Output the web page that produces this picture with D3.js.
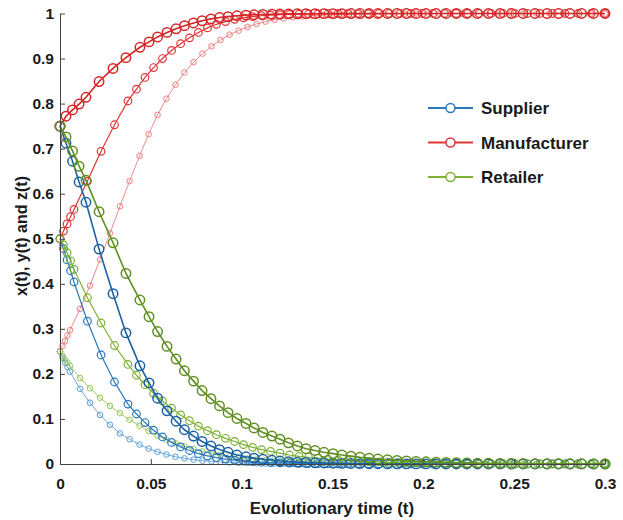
<!DOCTYPE html>
<html>
<head>
<meta charset="utf-8">
<script src="https://cdn.jsdelivr.net/npm/d3@7"></script>
<style>
  body { margin: 0; background: #fff; }
  svg text { font-family: "Liberation Sans", Arial, sans-serif; font-weight: bold; fill: #1a1a1a; }
</style>
</head>
<body>
<svg id="chart" width="623" height="520"></svg>
<script>
// solver output times, one grid per initial value (0.75 / 0.5 / 0.25)
var tHigh = [0, 0.0033, 0.0069, 0.0105, 0.0143, 0.0215, 0.0292, 0.0363, 0.0440, 0.0490,
  0.0537, 0.0589, 0.0639, 0.0685, 0.0735, 0.0782, 0.0831, 0.0878, 0.0925, 0.0974,
  0.1024, 0.1068, 0.1117, 0.1167, 0.1211, 0.1258, 0.1307, 0.1354, 0.1404, 0.1453,
  0.1503, 0.1552, 0.1602, 0.1651, 0.1701, 0.1750, 0.1803, 0.1855, 0.1907, 0.1960,
  0.2015, 0.2070, 0.2125, 0.2182, 0.2240, 0.2298, 0.2358, 0.2422, 0.2485, 0.2549,
  0.2615, 0.2681, 0.2744, 0.2807, 0.2871, 0.2937, 0.3];
var tMid = [0, 0.0019, 0.0039, 0.0058, 0.0077, 0.0151, 0.0226, 0.0300, 0.0374, 0.0421,
  0.0468, 0.0515, 0.0564, 0.0614, 0.0664, 0.0713, 0.0762, 0.0812, 0.0861, 0.0911,
  0.0961, 0.1010, 0.1060, 0.1109, 0.1159, 0.1211, 0.1263, 0.1316, 0.1368, 0.1420,
  0.1475, 0.1530, 0.1585, 0.1640, 0.1698, 0.1756, 0.1813, 0.1872, 0.1932, 0.1993,
  0.2053, 0.2116, 0.2180, 0.2243, 0.2306, 0.2372, 0.2438, 0.2504, 0.2573, 0.2642,
  0.2711, 0.2780, 0.2851, 0.2925, 0.3];
var tLow = [0, 0.0014, 0.0028, 0.0041, 0.0055, 0.0110, 0.0165, 0.0220, 0.0275, 0.0330,
  0.0383, 0.0438, 0.0488, 0.0537, 0.0586, 0.0636, 0.0685, 0.0735, 0.0784, 0.0834,
  0.0883, 0.0933, 0.0983, 0.1032, 0.1082, 0.1131, 0.1181, 0.1230, 0.1283, 0.1335,
  0.1387, 0.1440, 0.1495, 0.1550, 0.1605, 0.1662, 0.1720, 0.1778, 0.1839, 0.1899,
  0.1960, 0.2023, 0.2086, 0.2150, 0.2213, 0.2279, 0.2345, 0.2414, 0.2483, 0.2551,
  0.2623, 0.2694, 0.2769, 0.2846, 0.2923, 0.3];

// supplier x(t)
var supplierHigh = [0.75, 0.712, 0.672, 0.626, 0.581, 0.477, 0.378, 0.291, 0.218, 0.180,
  0.146, 0.118, 0.095, 0.076, 0.062, 0.050, 0.040, 0.032, 0.026, 0.020,
  0.016, 0.013, 0.0104, 0.0083, 0.0066, 0.0053, 0.0042, 0.0034, 0.0027, 0.0022,
  0.0017, 0.0014, 0.0011, 0.0009, 0.0007, 0.0006, 0.0005, 0.0004, 0.0003, 0.0002,
  0.0002, 0.0001, 0.0001, 0.0001, 0.0001, 0.0001, 0, 0, 0, 0,
  0, 0, 0, 0, 0, 0, 0];
var supplierMid = [0.5, 0.478, 0.453, 0.429, 0.404, 0.317, 0.242, 0.182, 0.133, 0.111,
  0.092, 0.075, 0.060, 0.048, 0.038, 0.030, 0.023, 0.018, 0.014, 0.011,
  0.0085, 0.0066, 0.0051, 0.0040, 0.0031, 0.0024, 0.0018, 0.0014, 0.0011, 0.0008,
  0.0006, 0.0005, 0.0004, 0.0003, 0.0002, 0.0002, 0.0001, 0.0001, 0, 0,
  0, 0, 0, 0, 0, 0, 0, 0, 0, 0,
  0, 0, 0, 0, 0];
var supplierLow = [0.25, 0.236, 0.225, 0.215, 0.205, 0.167, 0.136, 0.109, 0.087, 0.068,
  0.055, 0.043, 0.034, 0.027, 0.021, 0.016, 0.0125, 0.0097, 0.0075, 0.0058,
  0.0045, 0.0035, 0.0027, 0.0021, 0.0016, 0.0012, 0.0009, 0.0007, 0.0005, 0.0004,
  0.0003, 0.0002, 0.0002, 0.0001, 0.0001, 0, 0, 0, 0, 0,
  0, 0, 0, 0, 0, 0, 0, 0, 0, 0,
  0, 0, 0, 0, 0, 0];

// manufacturer y(t)
var manufacturerHigh = [0.75, 0.772, 0.786, 0.799, 0.814, 0.849, 0.878, 0.902, 0.925, 0.937,
  0.948, 0.958, 0.966, 0.973, 0.979, 0.984, 0.988, 0.991, 0.993, 0.995,
  0.9963, 0.9972, 0.9979, 0.9984, 0.9988, 0.9991, 0.9993, 0.9995, 0.9996, 0.9997,
  0.9998, 0.9998, 0.9999, 0.9999, 1, 1, 1, 1, 1, 1,
  1, 1, 1, 1, 1, 1, 1, 1, 1, 1,
  1, 1, 1, 1, 1, 1, 1];
var manufacturerMid = [0.5, 0.517, 0.533, 0.549, 0.565, 0.628, 0.694, 0.753, 0.806, 0.832,
  0.858, 0.880, 0.900, 0.918, 0.933, 0.946, 0.958, 0.968, 0.976, 0.982,
  0.987, 0.9905, 0.993, 0.995, 0.9963, 0.9973, 0.998, 0.9985, 0.9989, 0.9992,
  0.9994, 0.9996, 0.9997, 0.9998, 0.9998, 0.9999, 0.9999, 1, 1, 1,
  1, 1, 1, 1, 1, 1, 1, 1, 1, 1,
  1, 1, 1, 1, 1];
var manufacturerLow = [0.25, 0.262, 0.273, 0.285, 0.297, 0.344, 0.396, 0.454, 0.512, 0.572,
  0.628, 0.684, 0.732, 0.775, 0.811, 0.842, 0.869, 0.892, 0.911, 0.927,
  0.941, 0.953, 0.962, 0.970, 0.977, 0.982, 0.986, 0.989, 0.9917, 0.9937,
  0.9952, 0.9963, 0.9972, 0.9979, 0.9984, 0.9988, 0.9991, 0.9993, 0.9995, 0.9996,
  0.9997, 0.9998, 0.9998, 0.9999, 0.9999, 1, 1, 1, 1, 1,
  1, 1, 1, 1, 1, 1];

// retailer z(t)
var retailerHigh = [0.75, 0.726, 0.695, 0.661, 0.630, 0.560, 0.491, 0.423, 0.364, 0.327,
  0.294, 0.261, 0.233, 0.207, 0.184, 0.163, 0.145, 0.129, 0.114, 0.101,
  0.090, 0.080, 0.070, 0.062, 0.055, 0.047, 0.040, 0.034, 0.030, 0.026,
  0.023, 0.020, 0.0175, 0.015, 0.013, 0.011, 0.0095, 0.008, 0.0068, 0.0058,
  0.0049, 0.0041, 0.0035, 0.0029, 0.0024, 0.0020, 0.0017, 0.0014, 0.0012, 0.0010,
  0.0008, 0.0007, 0.0006, 0.0005, 0.0004, 0.0003, 0.0003];
var retailerMid = [0.5, 0.487, 0.469, 0.451, 0.432, 0.369, 0.313, 0.263, 0.221, 0.197,
  0.176, 0.157, 0.140, 0.124, 0.109, 0.096, 0.084, 0.074, 0.065, 0.057,
  0.050, 0.043, 0.037, 0.032, 0.028, 0.024, 0.020, 0.017, 0.015, 0.013,
  0.011, 0.0092, 0.0078, 0.0066, 0.0055, 0.0046, 0.0038, 0.0032, 0.0026, 0.0022,
  0.0018, 0.0015, 0.0012, 0.0010, 0.0008, 0.0007, 0.0006, 0.0005, 0.0004, 0.0003,
  0.0003, 0.0002, 0.0002, 0.0002, 0.0001];
var retailerLow = [0.25, 0.240, 0.232, 0.225, 0.218, 0.191, 0.168, 0.147, 0.129, 0.113,
  0.098, 0.085, 0.073, 0.063, 0.054, 0.046, 0.039, 0.033, 0.028, 0.024,
  0.020, 0.017, 0.0145, 0.012, 0.010, 0.0085, 0.0070, 0.0060, 0.0050, 0.0041,
  0.0034, 0.0028, 0.0023, 0.0019, 0.0015, 0.0012, 0.0010, 0.0008, 0.0006, 0.0005,
  0.0004, 0.0003, 0.0002, 0.0002, 0.0001, 0.0001, 0, 0, 0, 0,
  0, 0, 0, 0, 0, 0];

var xTicks = [0, 0.05, 0.1, 0.15, 0.2, 0.25, 0.3];
var yTicks = [0, 0.1, 0.2, 0.3, 0.4, 0.5, 0.6, 0.7, 0.8, 0.9, 1];
var legendNames = ["Supplier", "Manufacturer", "Retailer"];

var margin = {left: 60, top: 13.5, right: 18, bottom: 56};
var W = 623, H = 520;
var svg = d3.select("#chart");

var x = d3.scaleLinear().domain([0, 0.3]).range([margin.left, W - margin.right]);
var y = d3.scaleLinear().domain([0, 1]).range([H - margin.bottom, margin.top]);

// colours: [low, mid, high] shade for each player
var palette = {
  Supplier: ["#5b9dd6", "#2a79be", "#1b62a3"],
  Manufacturer: ["#ec7e7e", "#e03838", "#d42424"],
  Retailer: ["#98c655", "#7db134", "#5f8f1f"]
};
var levelStyle = [
  {lw: 0.9, r: 2.8, mw: 1.0},
  {lw: 1.2, r: 3.8, mw: 1.2},
  {lw: 1.6, r: 4.7, mw: 1.5}
];

var series = [
  {name: "Supplier", lvl: 0, t: tLow, v: supplierLow},
  {name: "Manufacturer", lvl: 0, t: tLow, v: manufacturerLow},
  {name: "Retailer", lvl: 0, t: tLow, v: retailerLow},
  {name: "Supplier", lvl: 1, t: tMid, v: supplierMid},
  {name: "Manufacturer", lvl: 1, t: tMid, v: manufacturerMid},
  {name: "Retailer", lvl: 1, t: tMid, v: retailerMid},
  {name: "Supplier", lvl: 2, t: tHigh, v: supplierHigh},
  {name: "Manufacturer", lvl: 2, t: tHigh, v: manufacturerHigh},
  {name: "Retailer", lvl: 2, t: tHigh, v: retailerHigh}
];

var line = d3.line().x(function(d) { return x(d[0]); }).y(function(d) { return y(d[1]); });

series.forEach(function(s) {
  var pts = s.t.map(function(t, i) { return [t, s.v[i]]; });
  var col = palette[s.name][s.lvl];
  var st = levelStyle[s.lvl];
  var g = svg.append("g");
  g.append("path")
    .attr("d", line(pts))
    .attr("fill", "none")
    .attr("stroke", col)
    .attr("stroke-width", st.lw);
  g.selectAll("circle").data(pts).enter().append("circle")
    .attr("cx", function(d) { return x(d[0]); })
    .attr("cy", function(d) { return y(d[1]); })
    .attr("r", st.r)
    .attr("fill", "none")
    .attr("stroke", col)
    .attr("stroke-width", st.mw);
});

// axes, ticks pointing inward
var xAxis = d3.axisBottom(x).tickValues(xTicks).tickSizeInner(-5).tickSizeOuter(0).tickPadding(14)
  .tickFormat(function(d) { return d3.format("")(+d.toFixed(2)); });
var yAxis = d3.axisLeft(y).tickValues(yTicks).tickSizeInner(-5).tickSizeOuter(0).tickPadding(6)
  .tickFormat(function(d) { return d3.format("")(+d.toFixed(1)); });

var gx = svg.append("g").attr("transform", "translate(0," + y(0) + ")").call(xAxis);
var gy = svg.append("g").attr("transform", "translate(" + x(0) + ",0)").call(yAxis);
[gx, gy].forEach(function(g) {
  g.select(".domain").attr("stroke", "#444").attr("stroke-width", 1);
  g.selectAll(".tick line").attr("stroke", "#444");
  g.selectAll(".tick text").style("font-size", "15.5px").attr("fill", "#1a1a1a");
});

svg.append("text")
  .attr("x", 332)
  .attr("y", 514)
  .attr("text-anchor", "middle")
  .style("font-size", "17px")
  .text("Evolutionary time (t)");

svg.append("text")
  .attr("transform", "translate(27," + 236 + ") rotate(-90)")
  .attr("text-anchor", "middle")
  .style("font-size", "16px")
  .text("x(t), y(t) and z(t)");

// legend
var lg = svg.append("g").attr("transform", "translate(428,108)");
legendNames.forEach(function(n, i) {
  var col = palette[n][1];
  var row = lg.append("g").attr("transform", "translate(0," + (i * 34.5) + ")");
  row.append("line").attr("x1", 0).attr("x2", 45).attr("y1", 0).attr("y2", 0)
    .attr("stroke", col).attr("stroke-width", 2);
  row.append("circle").attr("cx", 22.5).attr("cy", 0).attr("r", 4.5)
    .attr("fill", "#fff").attr("stroke", col).attr("stroke-width", 1.5);
  row.append("text").attr("x", 53).attr("y", 0).attr("dy", "0.36em")
    .style("font-size", "17px").text(n);
});
</script>
</body>
</html>
